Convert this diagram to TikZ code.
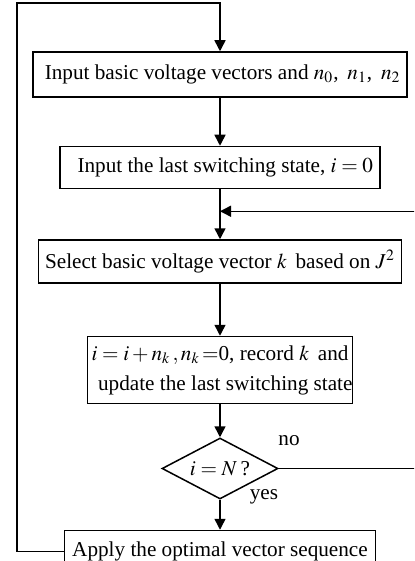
\documentclass[tikz,border=0pt]{standalone}
\usepackage{mathptmx}
\usepackage{fontspec}
\setmainfont{Liberation Serif}
\usepackage{tikz}
\usetikzlibrary{arrows.meta,positioning,calc,shapes.geometric}

\begin{document}
\begin{tikzpicture}[x=0.5pt,y=-0.5pt, line width=0.75pt,
  every node/.style={font=\fontsize{10.6}{15}\selectfont},
  box/.style={draw,thick,line width=0.75pt,inner sep=0pt,minimum height=21pt},
  arr/.style={-{Triangle[length=5.5pt,width=5.5pt]}}]
\useasboundingbox (0,0) rectangle (414,561);
\clip (0,0) rectangle (414,561);
\node[box,minimum width=187pt,minimum height=22.5pt] (in) at (220,74.5) {\ Input basic voltage vectors and $n_0$,\ \,$n_1$,\ \,$n_2$};
\node[box,minimum width=160pt,below=24pt of in] (ls) {\ \ Input the last switching state, $i=0$};
\node[box,minimum width=181.5pt,minimum height=21.5pt,below=25pt of ls] (sel) {Select basic voltage vector $k$ \,based on $J^2$};
\node[box,minimum width=131.5pt,minimum height=33.5pt,align=center,below=26pt of sel] (upd) {$i=i+n_k\,,n_k\!=$0, record $k$ \,and\\ \ \ update the last switching state};
\node[draw,diamond,line width=0.75pt,inner sep=0pt,aspect=1.9,minimum width=58pt,minimum height=30.5pt,below=16.5pt of upd] (chk) {$i=N$\,?};
\node[box,minimum width=155.5pt,below=15pt of chk] (app) {Apply the optimal vector sequence};
\node (no) at (289,441) {no};
\node (yes) at (264,497) {yes};
\coordinate (tl) at (17,3);
\coordinate (jn) at ($(ls.south)!0.44!(sel.north)$);
\coordinate (rt) at ($(chk.east)+(150,0)$);
\draw[arr] (in)--(ls);
\draw (ls)--(jn);
\draw[arr] (jn)--(sel);
\draw[arr] (sel)--(upd);
\draw[arr] (upd)--(chk);
\draw[arr] (chk)--(app);
\draw[arr] (chk.east)--(rt) |- (jn);
\draw[arr] (app.west) -| (tl) -| (in.north);
\end{tikzpicture}
\end{document}
